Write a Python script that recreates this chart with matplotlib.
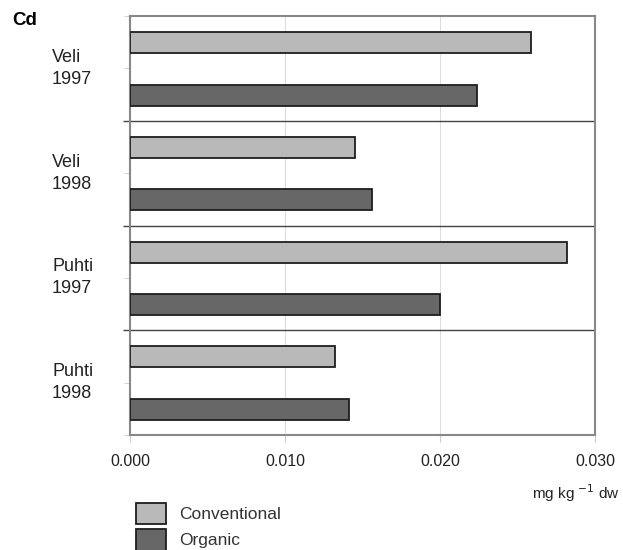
import matplotlib.pyplot as plt
import matplotlib.transforms as mtransforms
import numpy as np

plt.rcParams['font.family'] = ['Liberation Sans', 'DejaVu Sans']

# Cd content per cultivar / year
groups = ['Veli\n1997', 'Veli\n1998', 'Puhti\n1997', 'Puhti\n1998']
conventional = [0.0259, 0.0145, 0.0282, 0.0132]
organic = [0.0224, 0.0156, 0.0200, 0.0141]
x_ticks = [0.000, 0.010, 0.020, 0.030]
x_labels = ['0.000', '0.010', '0.020', '0.030']

fig = plt.figure(figsize=(6.23, 5.5), dpi=100)
ax = fig.add_axes([0.2087, 0.2091, 0.7464, 0.7618])

pos = np.arange(len(groups))
bar_h = 0.2
ax.barh(pos + 0.255, conventional, height=bar_h, color='#b9b9b9',
        edgecolor='#1e1e1e', linewidth=1.3, label='Conventional', zorder=3)
ax.barh(pos + 0.755, organic, height=bar_h, color='#676767',
        edgecolor='#1e1e1e', linewidth=1.3, label='Organic', zorder=3)

ax.set_xlim(0, 0.030)
ax.set_ylim(len(groups), 0)

# group separators
for b in range(1, len(groups)):
    ax.axhline(b, color='#444444', linewidth=1.0, zorder=2)

ax.set_xticks(x_ticks)
ax.set_xticklabels(x_labels, fontsize=11.5, color='#222222')
ax.tick_params(axis='x', length=5, color='#cccccc', pad=9)
ax.xaxis.grid(True, color='#dddddd', linewidth=0.8, zorder=0)

ax.set_yticks(range(1, len(groups)))
ax.set_yticklabels([])
ax.tick_params(axis='y', length=5, color='#444444', width=1.0)
ax.set_yticks(list(pos + 0.5) + [0, len(groups)], minor=True)
ax.set_yticklabels([], minor=True)
ax.tick_params(axis='y', which='minor', length=4, color='#cccccc')

# group labels: x in figure fraction, y in data
lab_tr = mtransforms.blended_transform_factory(fig.transFigure, ax.transData)
for i, g in enumerate(groups):
    ax.text(0.0835, i + 0.5, g, transform=lab_tr, ha='left', va='center',
            fontsize=13, color='#222222', linespacing=1.4)

for s in ax.spines.values():
    s.set_color('#888888')
    s.set_linewidth(1.5)

fig.text(0.019, 0.962, 'Cd', fontsize=13.5, fontweight='bold', ha='left', va='center')
fig.text(0.995, 0.104, 'mg kg $^{-1}$ dw', fontsize=11, ha='right', va='center',
         color='#222222')

leg = fig.legend(loc='upper left', bbox_to_anchor=(0.219, 0.086), frameon=False,
                 fontsize=12.5, handlelength=1.7, handleheight=1.55, handletextpad=0.75,
                 labelspacing=0.25, borderaxespad=0, borderpad=0)
for t in leg.get_texts():
    t.set_color('#333333')

fig.savefig('out.png', dpi=100)
